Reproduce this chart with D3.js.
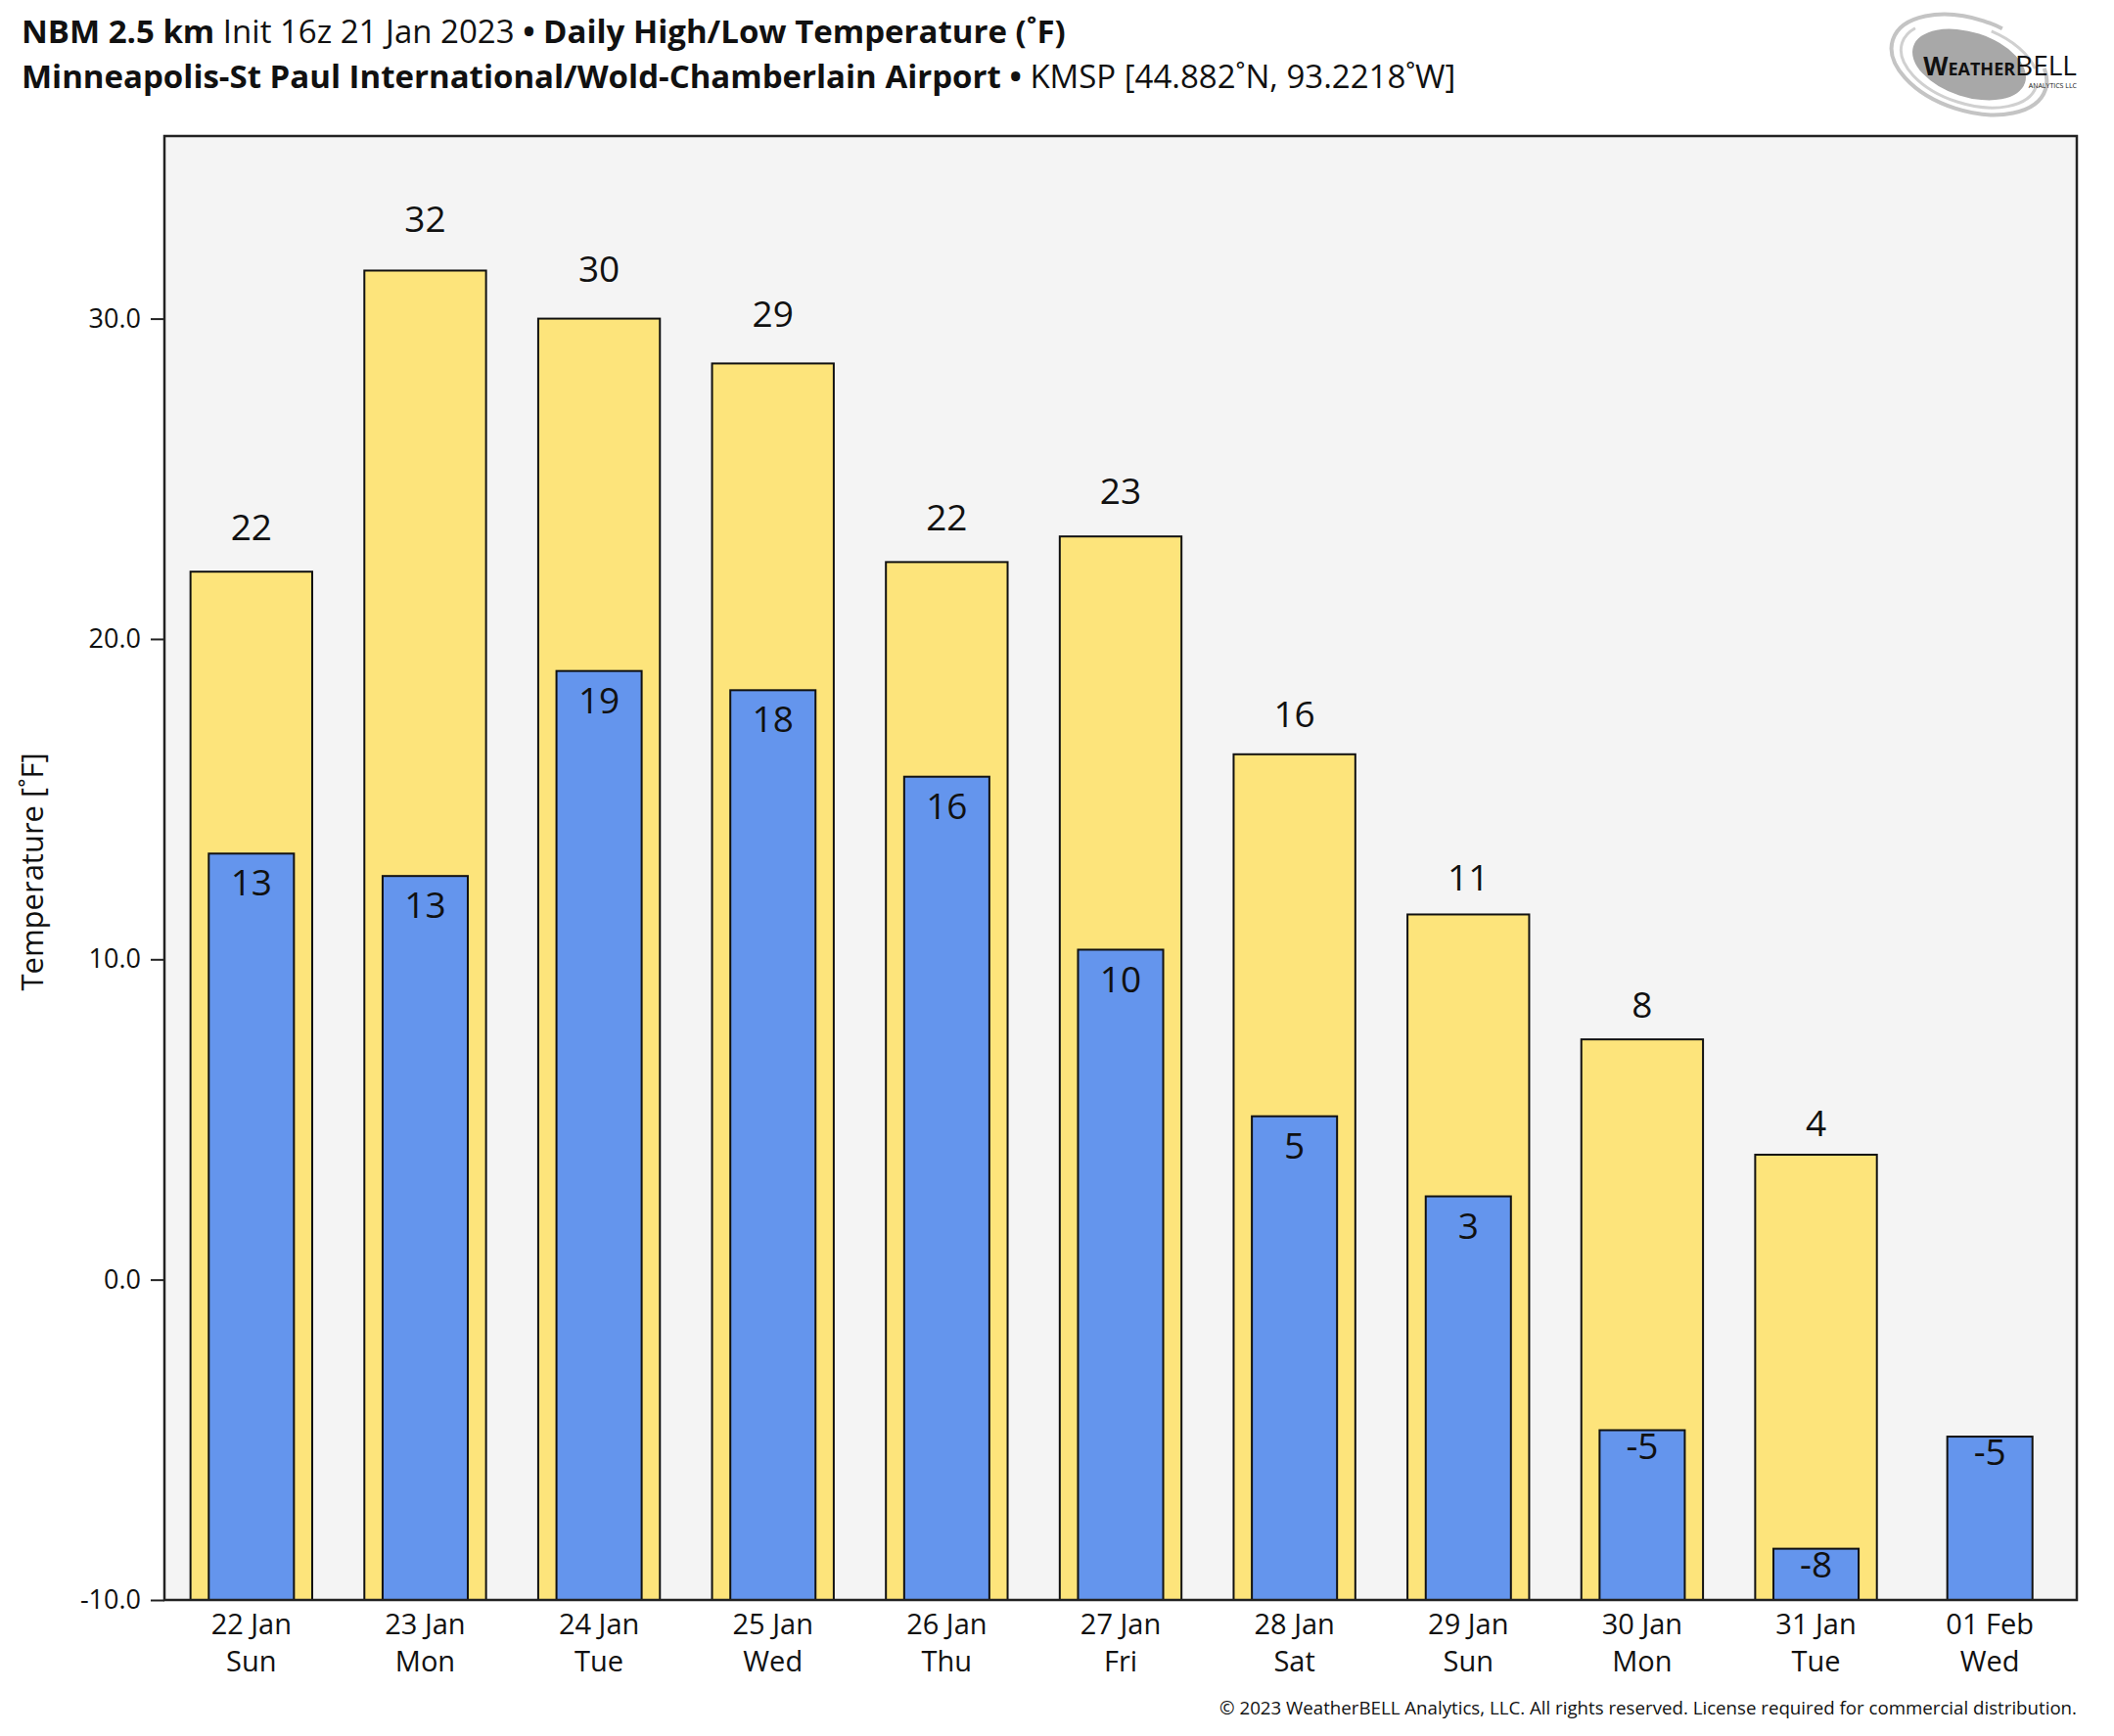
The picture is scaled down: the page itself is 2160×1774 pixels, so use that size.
<!DOCTYPE html>
<html><head><meta charset="utf-8">
<script src="https://cdn.jsdelivr.net/npm/d3@7"></script>
<style>
html,body{margin:0;padding:0;background:#fff;}
text{font-family:"Open Sans","Noto Sans",sans-serif;fill:#111;}
</style></head>
<body>
<svg id="chart" width="2160" height="1774"></svg>
<script>
const categories = ["22 Jan","23 Jan","24 Jan","25 Jan","26 Jan","27 Jan","28 Jan","29 Jan","30 Jan","31 Jan","01 Feb"];
const weekdays = ["Sun","Mon","Tue","Wed","Thu","Fri","Sat","Sun","Mon","Tue","Wed"];
const highs = [22.1, 31.5, 30.0, 28.6, 22.4, 23.2, 16.4, 11.4, 7.5, 3.9, null];
const lows  = [13.3, 12.6, 19.0, 18.4, 15.7, 10.3, 5.1, 2.6, -4.7, -8.4, -4.9];
const yTicks = [-10, 0, 10, 20, 30];

const svg = d3.select("#chart");
const M = {left:168, right:2122, top:139, bottom:1635};

const x = d3.scaleBand().domain(categories).range([M.left, M.right]).paddingInner(0).paddingOuter(0);
const y = d3.scaleLinear().domain([-10, 35.7]).range([M.bottom, M.top]);

svg.append("rect").attr("x",M.left).attr("y",M.top).attr("width",M.right-M.left).attr("height",M.bottom-M.top)
  .attr("fill","#f4f4f4");

const bw = x.bandwidth();
const hiW = bw*0.70, loW = bw*0.49;

const data = categories.map((c,i)=>({c, wd:weekdays[i], hi:highs[i], lo:lows[i]}));
const base = y.domain()[0];

svg.append("g").selectAll("rect").data(data.filter(d=>d.hi!=null)).join("rect")
  .attr("x",d=>x(d.c)+bw/2-hiW/2).attr("width",hiW)
  .attr("y",d=>y(d.hi)).attr("height",d=>y(base)-y(d.hi))
  .attr("fill","#fde47b").attr("stroke","#111").attr("stroke-width",2);

svg.append("g").selectAll("rect").data(data).join("rect")
  .attr("x",d=>x(d.c)+bw/2-loW/2).attr("width",loW)
  .attr("y",d=>y(d.lo)).attr("height",d=>y(base)-y(d.lo))
  .attr("fill","#6495ed").attr("stroke","#111").attr("stroke-width",2);

// value labels
svg.append("g").selectAll("text").data(data.filter(d=>d.hi!=null)).join("text")
  .attr("x",d=>x(d.c)+bw/2).attr("y",d=>y(d.hi + 0.9 + 0.022*d.hi) + 13)
  .attr("text-anchor","middle").attr("font-size",37)
  .text(d=>Math.round(d.hi));
svg.append("g").selectAll("text").data(data).join("text")
  .attr("x",d=>x(d.c)+bw/2).attr("y",d=>y(d.lo - (d.lo >= 0 ? 0.92 : 0.5)) + 13)
  .attr("text-anchor","middle").attr("font-size",37)
  .text(d=>Math.round(d.lo));

svg.append("rect").attr("x",M.left).attr("y",M.top).attr("width",M.right-M.left).attr("height",M.bottom-M.top)
  .attr("fill","none").attr("stroke","#222").attr("stroke-width",2.5);

// y axis
const yAxis = d3.axisLeft(y).tickValues(yTicks).tickFormat(d=>d.toFixed(1)).tickSize(14).tickPadding(10);
const gy = svg.append("g").attr("transform",`translate(${M.left},0)`).call(yAxis);
gy.select(".domain").remove();
gy.selectAll(".tick line").attr("stroke","#222").attr("stroke-width",2);
gy.selectAll(".tick text").attr("font-size",27).attr("fill","#111").attr("font-family","Open Sans");

// x axis
const xAxis = d3.axisBottom(x).tickSize(0).tickPadding(0).tickFormat(()=> "");
const gx = svg.append("g").attr("transform",`translate(0,${M.bottom})`).call(xAxis);
gx.select(".domain").remove();
gx.selectAll(".tick").each(function(c,i){
  const t = d3.select(this).append("text").attr("text-anchor","middle").attr("font-size",29).attr("fill","#111");
  t.append("tspan").attr("x",0).attr("y",35).text(c);
  t.append("tspan").attr("x",0).attr("y",73).text(weekdays[i]);
});

// y label
svg.append("text").attr("transform",`translate(44,${(M.top+M.bottom)/2+4}) rotate(-90)`)
  .attr("text-anchor","middle").attr("font-size",31).text("Temperature [˚F]");

// titles
const t1 = svg.append("text").attr("x",22).attr("y",44).attr("font-size",33);
t1.append("tspan").attr("font-weight","bold").text("NBM 2.5 km");
t1.append("tspan").text(" Init 16z 21 Jan 2023 ");
t1.append("tspan").attr("font-weight","bold").text("• Daily High/Low Temperature (˚F)");
const t2 = svg.append("text").attr("x",22).attr("y",90).attr("font-size",33);
t2.append("tspan").attr("font-weight","bold").text("Minneapolis-St Paul International/Wold-Chamberlain Airport");
t2.append("tspan").attr("font-weight","bold").text(" • ");
t2.append("tspan").text("KMSP [44.882˚N, 93.2218˚W]");

// copyright
svg.append("text").attr("x",M.right).attr("y",1752).attr("text-anchor","end").attr("font-size",18.7).attr("fill","#222")
  .text("© 2023 WeatherBELL Analytics, LLC. All rights reserved. License required for commercial distribution.");

// logo
const lg = svg.append("g").attr("transform","translate(2012,66) rotate(18)");
lg.append("ellipse").attr("rx",82).attr("ry",47).attr("fill","none").attr("stroke","#c4c4c4").attr("stroke-width",4)
  .attr("stroke-dasharray","330 60");
lg.append("ellipse").attr("rx",72).attr("ry",40).attr("fill","none").attr("stroke","#d0d0d0").attr("stroke-width",3)
  .attr("stroke-dasharray","200 80 60 40");
lg.append("ellipse").attr("rx",60).attr("ry",33).attr("fill","#a8a8a8");
const lt = svg.append("text").attr("x",2122).attr("y",77).attr("text-anchor","end")
  .attr("font-family","Liberation Serif").attr("fill","#4a4a4a").attr("font-weight","bold");
lt.append("tspan").attr("font-size",26).text("W");
lt.append("tspan").attr("font-size",18).text("EATHER");
lt.append("tspan").attr("font-size",28).attr("font-weight","normal").text("BELL");
svg.append("text").attr("x",2122).attr("y",90).attr("text-anchor","end").attr("font-family","Liberation Serif")
  .attr("font-size",7).attr("fill","#666").text("ANALYTICS LLC");
</script>
</body></html>
